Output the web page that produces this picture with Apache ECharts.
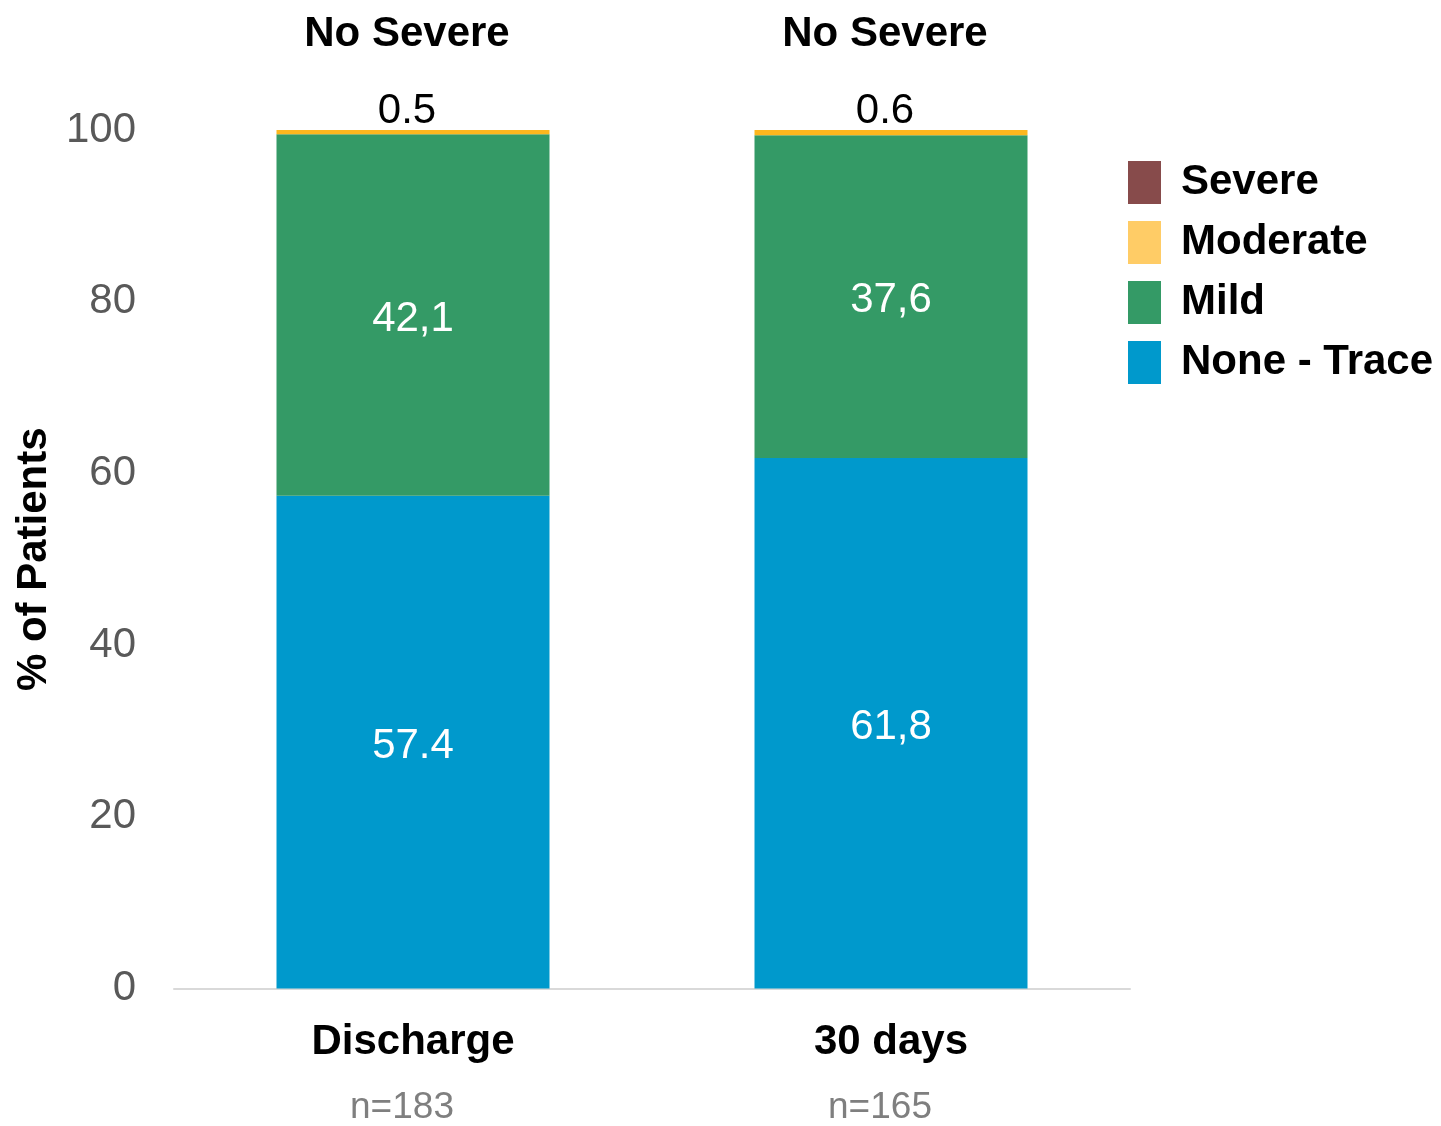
<!DOCTYPE html>
<html>
<head>
<meta charset="utf-8">
<script src="https://cdn.jsdelivr.net/npm/echarts@6/dist/echarts.min.js"></script>
<style>
  html, body { margin: 0; padding: 0; background: #ffffff; }
  #chart { width: 1441px; height: 1126px; }
</style>
</head>
<body>
<div id="chart"></div>
<script>
// Timepoints and cohort sizes
const categories = ['Discharge', '30 days'];
const sampleSizes = ['n=183', 'n=165'];
const topNotes = ['No Severe', 'No Severe'];

// Regurgitation grade shares, % of patients
const noneTrace = [57.4, 61.8];
const mild = [42.1, 37.6];
const moderate = [0.5, 0.6];
const severe = [0, 0];

// Printed value labels (as written on the slide)
const noneTraceLabels = ['57.4', '61,8'];
const mildLabels = ['42,1', '37,6'];
const moderateLabels = ['0.5', '0.6'];

const yTicks = [0, 20, 40, 60, 80, 100];

const FONT = 'Liberation Sans, Arial, Helvetica, sans-serif';

const chart = echarts.init(document.getElementById('chart'), null, { renderer: 'canvas' });

const inBarLabel = (texts) => ({
  show: true,
  position: 'inside',
  color: '#ffffff',
  fontFamily: FONT,
  fontSize: 42,
  offset: [0, 4],
  formatter: (p) => texts[p.dataIndex]
});

chart.setOption({
  animation: false,
  backgroundColor: '#ffffff',
  textStyle: { fontFamily: FONT },
  grid: { left: 174, right: 311, top: 130, bottom: 135, containLabel: false },
  legend: {
    orient: 'vertical',
    left: 1128,
    top: 161,
    padding: 0,
    icon: 'rect',
    itemWidth: 33,
    itemHeight: 43,
    itemGap: 17,
    selectedMode: false,
    textStyle: {
      fontFamily: FONT,
      fontSize: 42,
      fontWeight: 'bold',
      color: '#000000',
      padding: [6, 0, 0, 15]
    },
    data: [
      { name: 'Severe', itemStyle: { color: '#874B4B' } },
      { name: 'Moderate', itemStyle: { color: '#FFCC66' } },
      { name: 'Mild', itemStyle: { color: '#349A66' } },
      { name: 'None - Trace', itemStyle: { color: '#0099CC' } }
    ]
  },
  xAxis: [
    {
      type: 'category',
      data: categories,
      position: 'bottom',
      axisLine: { show: true, lineStyle: { color: '#D9D9D9', width: 2 } },
      axisTick: { show: false },
      axisLabel: {
        margin: 21,
        formatter: (v, i) => '{a|' + v + '}\n{b|' + sampleSizes[i] + '}',
        rich: {
          a: { fontFamily: FONT, fontSize: 42, fontWeight: 'bold', color: '#000000', lineHeight: 66 },
          b: { fontFamily: FONT, fontSize: 37, color: '#7F7F7F', lineHeight: 64, padding: [0, 22, 0, 0] }
        }
      }
    },
    {
      type: 'category',
      data: categories,
      position: 'top',
      axisLine: { show: false },
      axisTick: { show: false },
      axisLabel: {
        margin: 72,
        formatter: (v, i) => '{t|' + topNotes[i] + '}',
        rich: {
          t: { fontFamily: FONT, fontSize: 42, fontWeight: 'bold', color: '#000000', lineHeight: 48, padding: [0, 12, 0, 0] }
        }
      }
    }
  ],
  yAxis: {
    type: 'value',
    min: 0,
    max: 100,
    interval: 20,
    name: '% of Patients',
    nameLocation: 'middle',
    nameGap: 116,
    nameRotate: 90,
    nameTextStyle: { fontFamily: FONT, fontSize: 42, fontWeight: 'bold', color: '#000000' },
    axisLine: { show: false },
    axisTick: { show: false },
    splitLine: { show: false },
    axisLabel: {
      margin: 38,
      fontFamily: FONT,
      fontSize: 42,
      color: '#595959',
      verticalAlign: 'middle',
      lineHeight: 42,
      padding: [8, 0, 0, 0],
      formatter: (v) => (yTicks.indexOf(v) >= 0 ? String(v) : '')
    }
  },
  series: [
    {
      name: 'None - Trace',
      type: 'bar',
      stack: 'grade',
      barWidth: 273,
      data: noneTrace,
      itemStyle: { color: '#0099CC' },
      label: inBarLabel(noneTraceLabels)
    },
    {
      name: 'Mild',
      type: 'bar',
      stack: 'grade',
      barWidth: 273,
      data: mild,
      itemStyle: { color: '#349A66' },
      label: inBarLabel(mildLabels)
    },
    {
      name: 'Moderate',
      type: 'bar',
      stack: 'grade',
      barWidth: 273,
      data: moderate,
      itemStyle: { color: '#FDB71E' },
      label: {
        show: true,
        position: 'top',
        distance: 0,
        color: '#000000',
        fontFamily: FONT,
        fontSize: 42,
        offset: [-6, 2],
        formatter: (p) => moderateLabels[p.dataIndex]
      }
    },
    {
      name: 'Severe',
      type: 'bar',
      stack: 'grade',
      barWidth: 273,
      data: severe,
      itemStyle: { color: '#874B4B' }
    }
  ]
});
</script>
</body>
</html>
